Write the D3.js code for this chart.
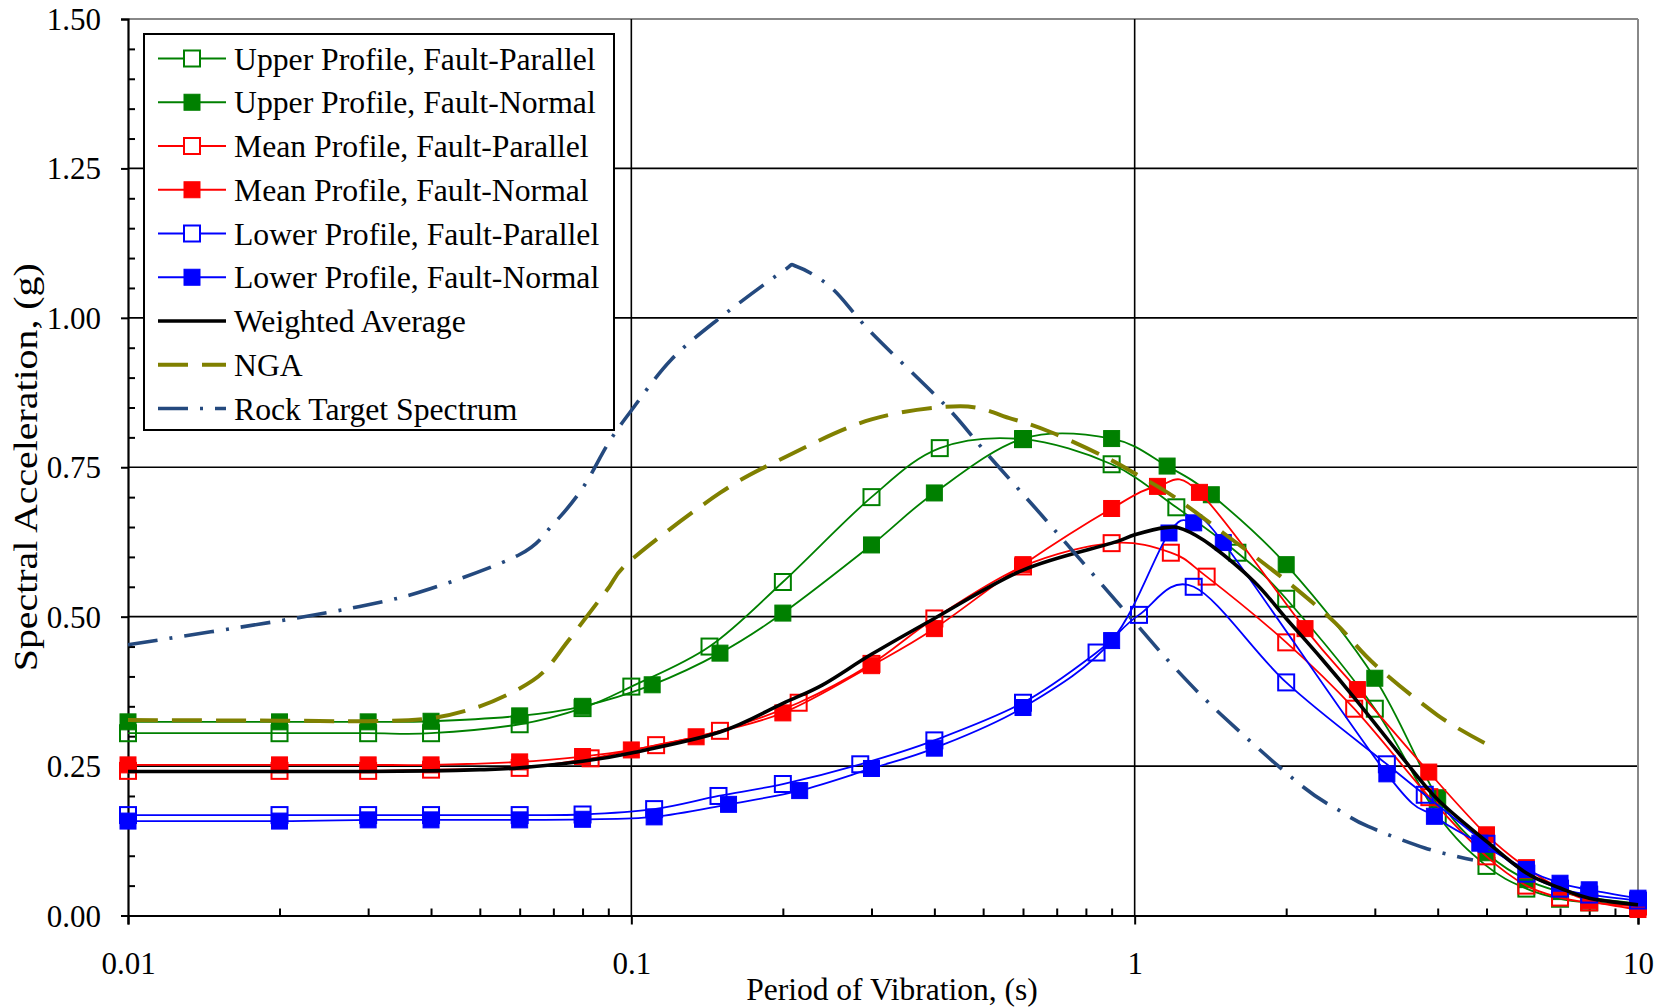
<!DOCTYPE html>
<html><head><meta charset="utf-8">
<script src="https://cdn.jsdelivr.net/npm/d3@7"></script>
<style>
body{margin:0;background:#fff}
svg{display:block}
text{font-family:"Liberation Serif","Times New Roman",serif;fill:#000}
</style>
</head><body>
<svg id="chart" width="1671" height="1008"></svg>
<script>
// ---------------- DATA ----------------
const upperFP_T = [0.01,0.02,0.03,0.04,0.06,0.08,0.1,0.143,0.2,0.3,0.41,0.6,0.9,1.21,1.6,2,3,4,5,6,7,8,10];
const upperFP_V = [0.305,0.305,0.305,0.305,0.32,0.347,0.383,0.45,0.558,0.70,0.782,0.797,0.755,0.683,0.607,0.530,0.346,0.168,0.083,0.045,0.028,0.022,0.018];

const upperFN_T = [0.01,0.02,0.03,0.04,0.06,0.08,0.11,0.15,0.2,0.3,0.4,0.6,0.9,1.16,1.42,2,3,4,5,6,7,8,10];
const upperFN_V = [0.324,0.324,0.324,0.325,0.334,0.35,0.386,0.439,0.506,0.62,0.707,0.798,0.798,0.752,0.704,0.587,0.397,0.197,0.105,0.06,0.04,0.03,0.02];

const meanFP_T = [0.01,0.02,0.03,0.04,0.06,0.083,0.112,0.15,0.215,0.3,0.4,0.6,0.9,1.18,1.39,2,2.73,3.85,5,6,7,8,10];
const meanFP_V = [0.242,0.242,0.242,0.244,0.247,0.263,0.285,0.309,0.356,0.421,0.497,0.584,0.623,0.607,0.567,0.457,0.346,0.198,0.099,0.05,0.03,0.022,0.015];

const meanFN_T = [0.01,0.02,0.03,0.04,0.06,0.08,0.1,0.1345,0.2,0.3,0.4,0.6,0.9,1.11,1.345,2.18,2.77,3.84,5,6,7,8,10];
const meanFN_V = [0.252,0.252,0.252,0.252,0.257,0.266,0.277,0.299,0.339,0.418,0.48,0.587,0.681,0.718,0.708,0.48,0.378,0.24,0.135,0.08,0.045,0.025,0.01];

const lowerFP_T = [0.01,0.02,0.03,0.04,0.06,0.08,0.111,0.149,0.2,0.285,0.4,0.6,0.84,1.02,1.31,2,3.17,3.77,5,6,7,8,10];
const lowerFP_V = [0.168,0.168,0.168,0.168,0.168,0.169,0.178,0.200,0.22,0.253,0.293,0.356,0.44,0.503,0.55,0.39,0.253,0.202,0.12,0.07,0.045,0.035,0.025];

const lowerFN_T = [0.01,0.02,0.03,0.04,0.06,0.08,0.111,0.156,0.216,0.3,0.4,0.6,0.9,1.17,1.31,1.5,3.17,3.94,4.85,6,7,8,10];
const lowerFN_V = [0.158,0.158,0.16,0.16,0.16,0.161,0.165,0.186,0.209,0.246,0.28,0.348,0.46,0.64,0.657,0.624,0.237,0.166,0.121,0.077,0.054,0.043,0.029];

const weighted_T = [0.01,0.02,0.03,0.04,0.05,0.06,0.08,0.1,0.15,0.2,0.24,0.3,0.4,0.6,0.9,1.0,1.15,1.25,1.42,1.73,2.0,2.35,2.74,3.39,4,5,6,7,8,10];
const weighted_V = [0.241,0.241,0.241,0.242,0.244,0.247,0.258,0.272,0.307,0.355,0.386,0.437,0.497,0.578,0.623,0.637,0.649,0.646,0.619,0.558,0.497,0.43,0.363,0.266,0.194,0.124,0.071,0.046,0.029,0.018];

const nga_T = [0.01,0.02,0.03,0.04,0.05,0.06,0.067,0.075,0.089,0.1,0.15,0.2,0.3,0.45,0.57,0.68,0.86,1.0,1.2,1.5,2,2.5,3,4,5];
const nga_V = [0.327,0.326,0.325,0.33,0.35,0.38,0.408,0.46,0.542,0.595,0.707,0.765,0.83,0.852,0.831,0.809,0.77,0.74,0.70,0.64,0.56,0.49,0.42,0.335,0.287];

const rock_T = [0.01,0.02,0.03,0.04,0.06,0.07,0.08,0.09,0.1,0.12,0.15,0.2,0.213,0.25,0.3,0.42,0.5,0.6,0.69,0.985,1.2,1.49,2.14,2.57,2.91,3.77,4.7];
const rock_V = [0.453,0.493,0.52,0.547,0.604,0.655,0.715,0.79,0.845,0.93,1.0,1.078,1.086,1.05,0.975,0.854,0.78,0.705,0.647,0.497,0.415,0.335,0.218,0.174,0.149,0.113,0.093];

const yTickValues = [0,0.25,0.5,0.75,1.0,1.25,1.5];
const yTickLabels = ["0.00","0.25","0.50","0.75","1.00","1.25","1.50"];
const xTickValues = [0.01,0.1,1,10];
const xTickLabels = ["0.01","0.1","1","10"];
const xTitle = "Period of Vibration, (s)";
const yTitle = "Spectral Acceleration, (g)";
const legendLabels = ["Upper Profile, Fault-Parallel","Upper Profile, Fault-Normal","Mean Profile, Fault-Parallel","Mean Profile, Fault-Normal","Lower Profile, Fault-Parallel","Lower Profile, Fault-Normal","Weighted Average","NGA","Rock Target Spectrum"];

// ---------------- SETUP ----------------
const GREEN="#008000", RED="#FF0000", BLUE="#0000FF", OLIVE="#808000", ROCK="#24497E";
const series = [
  {T:upperFP_T, V:upperFP_V, color:GREEN, marker:"hollow"},
  {T:upperFN_T, V:upperFN_V, color:GREEN, marker:"filled"},
  {T:meanFP_T,  V:meanFP_V,  color:RED,   marker:"hollow"},
  {T:meanFN_T,  V:meanFN_V,  color:RED,   marker:"filled"},
  {T:lowerFP_T, V:lowerFP_V, color:BLUE,  marker:"hollow"},
  {T:lowerFN_T, V:lowerFN_V, color:BLUE,  marker:"filled"},
  {T:weighted_T,V:weighted_V,color:"#000", marker:null, width:3.6},
  {T:nga_T,     V:nga_V,     color:OLIVE, marker:null, width:4, dash:"30,14"},
  {T:rock_T,    V:rock_V,    color:ROCK,  marker:null, width:3.6, dash:"30,12,3,12"}
];

const svg = d3.select("#chart");
const L=128, R=1638, T0=19, B=915.5;
const x = d3.scaleLog().domain([0.01,10]).range([L,R]);
const y = d3.scaleLinear().domain([0,1.5]).range([B,T0]);

// gridlines
const grid = svg.append("g");
grid.selectAll("line.h").data(yTickValues.filter(v=>v>0)).join("line")
  .attr("x1",L).attr("x2",R).attr("y1",d=>y(d)).attr("y2",d=>y(d))
  .attr("stroke",d=>d===1.5?"#888":"#000").attr("stroke-width",d=>d===1.5?2:1.6);
grid.selectAll("line.v").data(xTickValues.filter(v=>v>0.01)).join("line")
  .attr("y1",T0).attr("y2",B).attr("x1",d=>x(d)).attr("x2",d=>x(d))
  .attr("stroke",d=>d===10?"#888":"#000").attr("stroke-width",d=>d===10?2:1.6);

// axes
const minorY = d3.range(0,1.5001,0.05).filter(v=>Math.abs(v/0.25-Math.round(v/0.25))>1e-6);
const minorX = [];
[0.01,0.1,1].forEach(dec=>{for(let k=2;k<=9;k++) minorX.push(dec*k);});

const yAxis = svg.append("g").attr("transform",`translate(${L},0)`)
  .call(d3.axisLeft(y).tickValues(yTickValues).tickFormat((d,i)=>yTickLabels[i]).tickSize(7).tickPadding(20));
yAxis.selectAll("text").attr("font-size",31).attr("font-family","Liberation Serif").attr("dy","0.34em");
const yMinor = svg.append("g").attr("transform",`translate(${L},0)`)
  .call(d3.axisRight(y).tickValues(minorY).tickFormat("").tickSize(7));

const xAxis = svg.append("g").attr("transform",`translate(0,${B})`)
  .call(d3.axisBottom(x).tickValues(xTickValues).tickFormat((d,i)=>xTickLabels[i]).tickSize(9).tickPadding(27));
xAxis.selectAll("text").attr("font-size",31).attr("font-family","Liberation Serif");
const xMinor = svg.append("g").attr("transform",`translate(0,${B})`)
  .call(d3.axisTop(x).tickValues(minorX).tickFormat("").tickSize(7));

[yAxis,yMinor,xAxis,xMinor].forEach(g=>{
  g.select(".domain").attr("stroke","#000").attr("stroke-width",2.2);
  g.selectAll(".tick line").attr("stroke","#000").attr("stroke-width",2);
});
yMinor.select(".domain").remove(); xMinor.select(".domain").remove();

// titles
svg.append("text").attr("x",(L+R)/2+9).attr("y",1000).attr("text-anchor","middle")
  .attr("font-size",31.5).text(xTitle);
svg.append("text").attr("transform",`translate(37,${(T0+B)/2}) rotate(-90)`)
  .attr("text-anchor","middle").attr("font-size",33)
  .attr("textLength",408).attr("lengthAdjust","spacingAndGlyphs").text(yTitle);

// series
const line = d3.line().x(d=>x(d.t)).y(d=>y(d.v)).curve(d3.curveCardinal.tension(0));
const MS = 16;
const plot = svg.append("g");
series.forEach(s=>{
  const pts = s.T.map((t,i)=>({t, v:s.V[i]}));
  const g = plot.append("g");
  g.append("path").datum(pts).attr("d",line).attr("fill","none")
    .attr("stroke",s.color).attr("stroke-width",s.width||1.8)
    .attr("stroke-dasharray",s.dash||null).attr("stroke-linejoin","round");
  if(s.marker){
    g.selectAll("rect").data(pts).join("rect")
      .attr("x",d=>x(d.t)-MS/2).attr("y",d=>y(d.v)-MS/2)
      .attr("width",MS).attr("height",MS)
      .attr("fill",s.marker==="filled"?s.color:"none")
      .attr("stroke",s.color).attr("stroke-width",s.marker==="filled"?1:2);
  }
});

// legend
const LG = {x:144, y:34, w:470, h:396};
const leg = svg.append("g");
leg.append("rect").attr("x",LG.x).attr("y",LG.y).attr("width",LG.w).attr("height",LG.h)
  .attr("fill","#fff").attr("stroke","#000").attr("stroke-width",2);
const rowY = d3.scaleLinear().domain([0,8]).range([58.5,408.5]);
legendLabels.forEach((lab,i)=>{
  const s = series[i]; const cy = rowY(i);
  leg.append("line").attr("x1",158).attr("x2",226).attr("y1",cy).attr("y2",cy)
    .attr("stroke",s.color).attr("stroke-width",s.width||1.8).attr("stroke-dasharray",s.dash||null);
  if(s.marker){
    leg.append("rect").attr("x",192-MS/2).attr("y",cy-MS/2).attr("width",MS).attr("height",MS)
      .attr("fill",s.marker==="filled"?s.color:"#fff").attr("stroke",s.color)
      .attr("stroke-width",s.marker==="filled"?1:2);
  }
  leg.append("text").attr("x",234).attr("y",cy).attr("dy","0.35em").attr("font-size",31.7).text(lab);
});
</script>
</body></html>
